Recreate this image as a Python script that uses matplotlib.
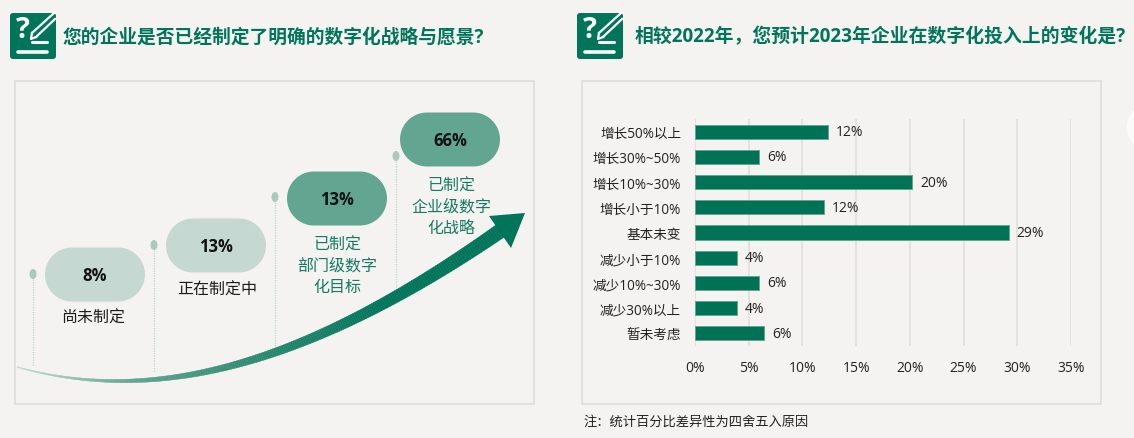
import numpy as np
import matplotlib
matplotlib.use("Agg")
import matplotlib.pyplot as plt
from matplotlib.patches import FancyBboxPatch, Rectangle, Ellipse, Polygon, Circle
from matplotlib.colors import LinearSegmentedColormap

plt.rcParams['font.family'] = ['Open Sans', 'Noto Sans CJK SC', 'DejaVu Sans']

# ---- data ----
title_left = "您的企业是否已经制定了明确的数字化战略与愿景?"
title_right = "相较2022年\uff0c您预计2023年企业在数字化投入上的变化是?"
note = "注\uff1a统计百分比差异性为四舍五入原因"
stage_values = [8, 13, 13, 66]
stage_labels = ["尚未制定", "正在制定中", "已制定\n部门级数字\n化目标", "已制定\n企业级数字\n化战略"]
categories = ["增长50%以上", "增长30%~50%", "增长10%~30%", "增长小于10%", "基本未变",
              "减少小于10%", "减少10%~30%", "减少30%以上", "暂未考虑"]
values = [12.4, 6.0, 20.2, 12.0, 29.2, 3.9, 6.0, 3.9, 6.4]
xticks = [0, 5, 10, 15, 20, 25, 30, 35]

# ---- style ----
W, H = 1134, 439
BG = "#F4F3F1"
GREEN = "#00755A"
TXTGREEN = "#157A62"
LIGHT = "#C5D9D2"
MID = "#62A692"
BORDER = "#DEDEDC"

fig = plt.figure(figsize=(W / 100, H / 100), dpi=100, facecolor=BG)
px = fig.add_axes([0, 0, 1, 1])
px.set_xlim(0, W)
px.set_ylim(H, 0)
px.axis("off")


def pill(x, y, w, h, color):
    r = h / 2
    a = np.linspace(-np.pi / 2, np.pi / 2, 40)
    right_arc = np.c_[x + w - r + r * np.cos(a), y + r + r * np.sin(a)]
    left_arc = np.c_[x + r - r * np.cos(a), y + r - r * np.sin(a)]
    px.add_patch(Polygon(np.r_[right_arc, left_arc], closed=True, fc=color, ec="none"))


def icon(x0):
    y0 = 14
    px.add_patch(FancyBboxPatch((x0 + 2, y0 + 2), 42, 42, boxstyle="round,pad=2,rounding_size=3",
                                fc=GREEN, ec="none"))
    px.text(x0 + 13, y0 + 17, "?", color="white", fontsize=21, fontweight="bold", ha="center", va="center")
    px.plot([x0 + 8, x0 + 37], [y0 + 38.5, y0 + 38.5], color="white", lw=2.6, solid_capstyle="round")
    px.plot([x0 + 22, x0 + 37], [y0 + 29, y0 + 29], color="white", lw=2.2, solid_capstyle="round")
    px.plot([x0 + 22, x0 + 44], [y0 + 20, y0 + 0], color="white", lw=1.6)
    px.plot([x0 + 26, x0 + 45], [y0 + 24, y0 + 6], color="white", lw=1.6)
    px.plot([x0 + 22, x0 + 21, x0 + 26], [y0 + 20, y0 + 26, y0 + 24], color="white", lw=1.6)


icon(10)
icon(577)
px.text(63, 37.5, title_left, color=GREEN, fontsize=13.5, fontweight="bold", va="center", ha="left")
px.text(635, 37.5, title_right, color=GREEN, fontsize=13.55, fontweight="bold", va="center", ha="left")

for x0 in (15, 582):
    px.add_patch(Rectangle((x0, 81.5), 519, 323, fc=BG, ec=BORDER, lw=1.3))
px.add_patch(Circle((1152, 128), 25, fc="#FBFBFA", ec="none"))

# curved arrow
t = np.linspace(0, 1, 260)
P = np.array([[17, 368], [150, 405], [300, 372], [503, 230]], dtype=float)
curve = ((1 - t) ** 3)[:, None] * P[0] + (3 * (1 - t) ** 2 * t)[:, None] * P[1] + \
        (3 * (1 - t) * t ** 2)[:, None] * P[2] + (t ** 3)[:, None] * P[3]
d = np.gradient(curve, axis=0)
n = np.c_[-d[:, 1], d[:, 0]] / np.linalg.norm(d, axis=1)[:, None]
half = 0.4 + 7.0 * t ** 1.25
upper, lower = curve + n * half[:, None], curve - n * half[:, None]
cmap = LinearSegmentedColormap.from_list("g", [LIGHT, MID, "#2F8B72", GREEN], N=256)
for i in range(len(t) - 1):
    c = cmap(min(float(t[i]) * 1.25, 1.0))
    px.add_patch(Polygon([upper[i], upper[i + 1], lower[i + 1], lower[i]], fc=c, ec=c, lw=0.3, zorder=3))
px.add_patch(Polygon([(525, 214), (489, 217), (511, 249)], fc=GREEN, ec="none", zorder=3))

# stages
pills = [(45, 248.5), (166, 219.5), (287, 172.5), (400, 113.5)]
pill_cols = [LIGHT, LIGHT, MID, MID]
stems = [(33, 275, 367), (154, 246, 373), (275, 198, 355), (396, 157, 300)]
label_xy = [(93, 319), (217, 291), (337, 267), (451, 208)]
label_cols = ["#1c1c1c", "#1c1c1c", TXTGREEN, TXTGREEN]
for v, (x, y), col, s, lab, lc, (lx, ly) in zip(stage_values, pills, pill_cols, stems, stage_labels, label_cols, label_xy):
    pill(x, y, 100, 54, col)
    px.text(x + 50, y + 28, f"{v}%", fontsize=12, fontweight="bold", color="#111111", ha="center", va="center")
    px.plot([s[0], s[0]], [s[1], s[2]], color="#BCD5CC", lw=0.9, ls=(0, (1, 1)), zorder=1)
    px.add_patch(Ellipse((s[0], s[1]), 7, 10, fc="#A9CABE", ec="none"))
    px.text(lx, ly, lab, fontsize=11.5, color=lc, ha="center", va="center", linespacing=1.44)

px.text(583, 422.5, note, fontsize=9.55, color="#222222", va="center", ha="left")

# bar chart
left, right, top, bottom = 695, 1071, 120, 347
ax = fig.add_axes([left / W, 1 - bottom / H, (right - left) / W, (bottom - top) / H])
ax.patch.set_alpha(0)
ypos = np.arange(len(categories))
ax.barh(ypos, values, height=0.56, color="#007256", edgecolor="#5FA48F", linewidth=0.6, zorder=3)
ax.set_ylim(len(categories) - 0.5, -0.5)
ax.set_xlim(0, 35)
ax.set_yticks(ypos, categories, fontsize=9.8, color="#222222")
ax.set_xticks(xticks, [f"{x}%" for x in xticks], fontsize=10, color="#222222")
ax.tick_params(length=0)
ax.tick_params(axis="x", pad=10)
ax.tick_params(axis="y", pad=10)
ax.grid(axis="x", color="#DEDEDC", lw=1.1, zorder=0)
ax.grid(axis="y", visible=False)
for sp in ax.spines.values():
    sp.set_visible(False)
for y, v in zip(ypos, values):
    ax.annotate(f"{round(v)}%", (v, y), xytext=(8, 0), textcoords="offset pixels",
                fontsize=10, color="#222222", va="center", ha="left")

fig.savefig("out.png", dpi=100, facecolor=BG)
